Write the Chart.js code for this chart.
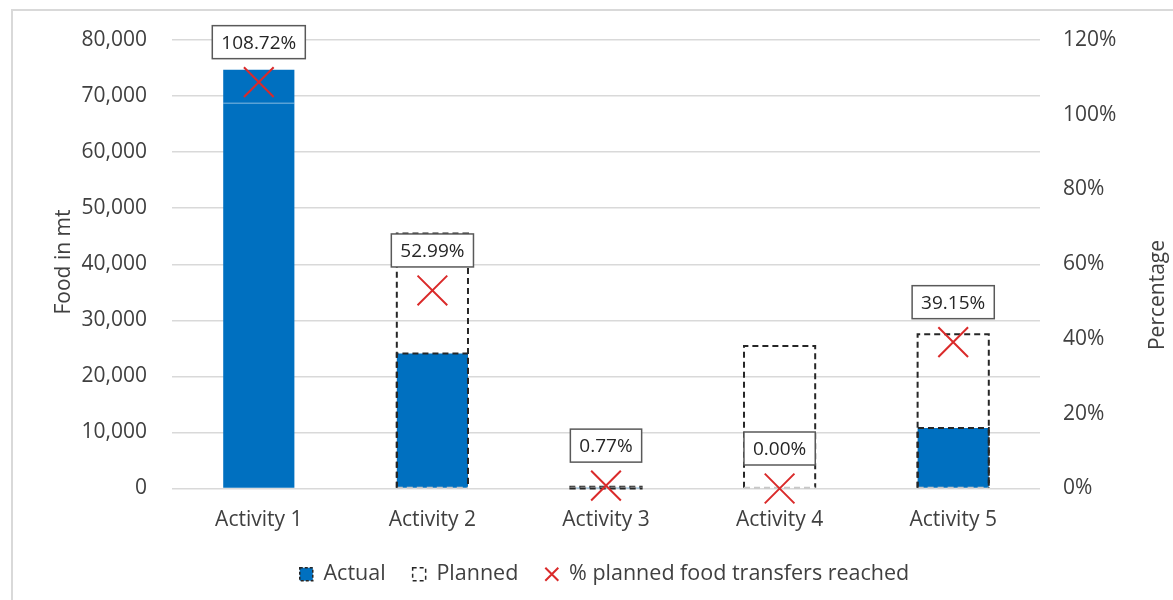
<!DOCTYPE html>
<html>
<head>
<meta charset="utf-8">
<script src="https://cdn.jsdelivr.net/npm/chart.js@4.4.1/dist/chart.umd.min.js"></script>
<style>
    html, body { margin: 0; padding: 0; background: #fff; }
    #wrap { width: 1173px; height: 600px; }
</style>
</head>
<body>
<div id="wrap"><canvas id="myChart" width="1173" height="600"></canvas></div>
<script>

var categories = ['Activity 1', 'Activity 2', 'Activity 3', 'Activity 4', 'Activity 5'];
var actualFood = [74700, 24100, 3, 0, 10770];
var plannedFood = [68700, 45500, 330, 25400, 27500];
var percentReached = [108.72, 52.99, 0.77, 0.00, 39.15];

var FONT = "'Open Sans', 'Noto Sans', sans-serif";
var TEXT = '#404040';
var BLUE = '#0070C0';
var RED = '#DA2A2A';

// dashed outlines for the bars (chart.js bars have no borderDash)
var outlinePlugin = {
    id: 'outlines',
    afterDatasetDraw: function(chart, args){
        if (args.index !== 1) return;
        var ctx = chart.ctx;
        var actualMeta = chart.getDatasetMeta(0);
        var plannedMeta = chart.getDatasetMeta(1);
        ctx.save();
        ctx.lineWidth = 2;
        for (var i = 0; i < categories.length; i++) {
            var p = plannedMeta.data[i];
            var a = actualMeta.data[i];
            var left = p.x - p.width / 2, right = p.x + p.width / 2;
            if (plannedFood[i] > actualFood[i]) {
                // planned outline: dark dashes on top and sides, light on base
                ctx.setLineDash([6, 4]);
                ctx.strokeStyle = '#262626';
                ctx.beginPath();
                ctx.moveTo(left, p.base);
                ctx.lineTo(left, p.y);
                ctx.lineTo(right, p.y);
                ctx.lineTo(right, p.base);
                ctx.stroke();
                ctx.strokeStyle = '#c8c8c8';
                ctx.beginPath();
                ctx.moveTo(left, p.base);
                ctx.lineTo(right, p.base);
                ctx.stroke();
                if (actualFood[i] > 0) {
                    ctx.strokeStyle = '#262626';
                    ctx.beginPath();
                    ctx.moveTo(left, a.base);
                    ctx.lineTo(left, a.y);
                    ctx.lineTo(right, a.y);
                    ctx.lineTo(right, a.base);
                    ctx.stroke();
                }
            } else {
                ctx.setLineDash([]);
                ctx.lineWidth = 1.5;
                ctx.strokeStyle = 'rgba(255,255,255,0.35)';
                ctx.beginPath();
                ctx.moveTo(left, p.y);
                ctx.lineTo(right, p.y);
                ctx.stroke();
                ctx.lineWidth = 2;
            }
        }
        ctx.restore();
    }
};

// boxed percentage labels and the frame / axis titles
var decorPlugin = {
    id: 'decor',
    beforeDraw: function(chart){
        var ctx = chart.ctx;
        ctx.save();
        ctx.strokeStyle = '#d9d9d9';
        ctx.lineWidth = 2;
        ctx.strokeRect(12, 10, 1300, 700);
        ctx.restore();
    },
    afterDraw: function(chart){
        var ctx = chart.ctx;
        var meta = chart.getDatasetMeta(2);
        ctx.save();
        ctx.font = '19px ' + FONT;
        ctx.textAlign = 'center';
        ctx.textBaseline = 'middle';
        for (var i = 0; i < meta.data.length; i++) {
            var pt = meta.data[i];
            var txt = percentReached[i].toFixed(2) + '%';
            var w = ctx.measureText(txt).width + 18;
            var h = 33;
            var cy = pt.y - 40;
            ctx.fillStyle = '#fff';
            ctx.fillRect(pt.x - w / 2, cy - h / 2, w, h);
            ctx.strokeStyle = '#595959';
            ctx.lineWidth = 1.5;
            ctx.strokeRect(pt.x - w / 2, cy - h / 2, w, h);
            ctx.fillStyle = '#262626';
            ctx.fillText(txt, pt.x, cy + 1);
        }
        // axis titles, both reading bottom to top
        ctx.font = '21px ' + FONT;
        ctx.fillStyle = TEXT;
        ctx.save();
        ctx.translate(64, 262);
        ctx.rotate(-Math.PI / 2);
        ctx.fillText('Food in mt', 0, 0);
        ctx.restore();
        ctx.save();
        ctx.translate(1158, 295);
        ctx.rotate(-Math.PI / 2);
        ctx.fillText('Percentage', 0, 0);
        ctx.restore();
        ctx.restore();
    }
};

document.addEventListener('DOMContentLoaded', drawChart);

function drawChart(){
    var ctx = document.getElementById('myChart').getContext('2d');
    var chart = new Chart(ctx, {
        type: 'bar',
        data: {
            labels: categories,
            datasets: [{
                label: 'Actual',
                data: actualFood,
                backgroundColor: BLUE,
                borderWidth: 0,
                grouped: false,
                order: 3,
                yAxisID: 'y'
            },
            {
                label: 'Planned',
                data: plannedFood,
                backgroundColor: 'rgba(0,0,0,0)',
                borderWidth: 0,
                grouped: false,
                order: 2,
                yAxisID: 'y'
            },
            {
                type: 'line',
                label: '% planned food transfers reached',
                data: percentReached,
                showLine: false,
                clip: false,
                pointStyle: 'crossRot',
                pointRadius: 21,
                pointHoverRadius: 21,
                pointBorderColor: RED,
                pointBackgroundColor: RED,
                pointBorderWidth: 2,
                order: 1,
                yAxisID: 'y1'
            }]
        },
        options: {
            responsive: false,
            animation: {duration: 0},
            devicePixelRatio: 1,
            // left padding only recentres the legend; the y axis width makes up for it
            layout: {padding: {top: 40, left: 36, right: 0, bottom: 5}},
            datasets: {bar: {barPercentage: 1, categoryPercentage: 0.41}},
            scales: {
                x: {
                    grid: {display: false, drawTicks: false},
                    border: {display: false},
                    ticks: {color: TEXT, font: {family: FONT, size: 21}, padding: 19},
                    afterFit: function(s){ s.height = 48; }
                },
                y: {
                    position: 'left',
                    min: 0, max: 80000,
                    ticks: {
                        stepSize: 10000, color: TEXT, padding: 25,
                        font: {family: FONT, size: 21},
                        callback: function(v){ return v.toLocaleString('en-US'); }
                    },
                    grid: {color: '#d9d9d9', lineWidth: 1.5, drawTicks: false},
                    border: {display: false},
                    afterFit: function(s){ s.width = 136; }
                },
                y1: {
                    position: 'right',
                    min: 0, max: 120,
                    ticks: {
                        stepSize: 20, color: TEXT, padding: 23,
                        font: {family: FONT, size: 21},
                        callback: function(v){ return v + '%'; }
                    },
                    grid: {drawOnChartArea: false, drawTicks: false},
                    border: {display: false},
                    afterFit: function(s){ s.width = 133; }
                }
            },
            plugins: {
                tooltip: {enabled: false},
                legend: {
                    position: 'bottom',
                    labels: {
                        color: TEXT,
                        font: {family: FONT, size: 21.5},
                        usePointStyle: true,
                        boxWidth: 13,
                        boxHeight: 13,
                        padding: 27,
                        generateLabels: function(c){
                            return [
                                {text: 'Actual', fillStyle: BLUE, strokeStyle: '#262626', lineWidth: 1.5, lineDash: [3, 2], pointStyle: 'rect', fontColor: TEXT, datasetIndex: 0},
                                {text: 'Planned', fillStyle: '#fff', strokeStyle: '#262626', lineWidth: 1.5, lineDash: [4, 3], pointStyle: 'rect', fontColor: TEXT, datasetIndex: 1},
                                {text: '% planned food transfers reached', fillStyle: RED, strokeStyle: RED, lineWidth: 2, pointStyle: 'crossRot', fontColor: TEXT, datasetIndex: 2}
                            ];
                        }
                    }
                }
            }
        },
        plugins: [outlinePlugin, decorPlugin]
    });
}
</script>
</body>
</html>
